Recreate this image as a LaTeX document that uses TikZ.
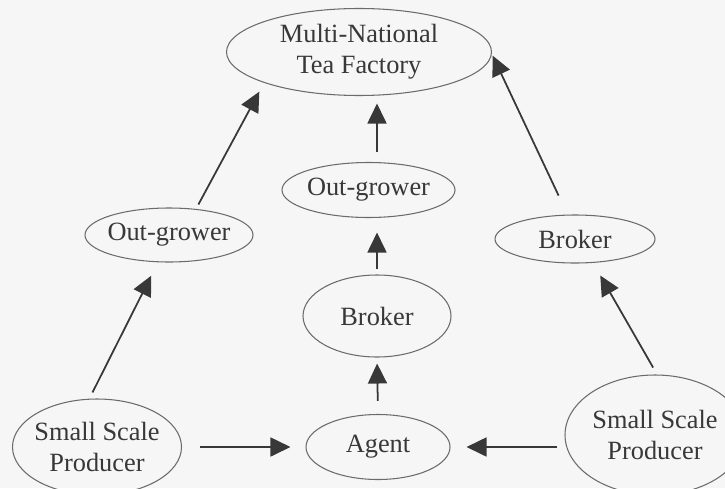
\documentclass[tikz,border=0pt]{standalone}
\usepackage{fontspec}
\setmainfont{Liberation Serif}
\usetikzlibrary{shapes.geometric,arrows.meta}
\definecolor{inkgray}{gray}{0.22}
\definecolor{rimgray}{gray}{0.42}
\definecolor{paper}{gray}{0.965}

\begin{document}
\begin{tikzpicture}[
  actor/.style={ellipse, draw=rimgray, line width=0.6pt, inner sep=0pt, inner xsep=-2pt,
    text=inkgray, align=center, font=\fontsize{15}{17.5}\selectfont},
  flow/.style={-{Triangle[length=0.4cm,width=0.38cm]}, line width=1pt, draw=inkgray}
]
% Page size and background
\clip (0,0) rectangle (14.5,-9.76);
\fill[paper] (0,0) rectangle (14.5,-9.76);

% The actors in the chain
\node[actor, minimum width=5.3cm, minimum height=1.74cm] (factory) at (7.18,-1.04) {Multi-National\\Tea Factory};
\node[actor, minimum width=3.46cm, minimum height=1.1cm] (growerMid) at (7.37,-3.8) {Out-grower};
\node[actor, minimum width=3.36cm, minimum height=1.08cm] (growerLeft) at (3.38,-4.7) {Out-grower};
\node[actor, minimum width=3.2cm, minimum height=0.96cm] (brokerRight) at (11.5,-4.78) {Broker};
\node[actor, minimum width=2.96cm, minimum height=1.64cm] (brokerMid) at (7.54,-6.32) {Broker};
\node[actor, minimum width=2.88cm, minimum height=1.3cm] (agent) at (7.56,-8.94) {Agent};
\node[actor, minimum width=3.38cm, minimum height=1.92cm] (producerLeft) at (1.94,-8.94) {Small Scale\\Producer};
\node[actor, minimum width=3.6cm, minimum height=2.4cm] (producerRight) at (13.1,-8.7) {Small Scale\\Producer};

% Flows of leaf to the factory
\draw[flow, shorten <=0.36cm, shorten >=0.3cm] (producerLeft.east) -- (agent.west);
\draw[flow, shorten <=0.14cm, shorten >=0.32cm] (producerRight.west |- agent.east) -- (agent.east);
\draw[flow, shorten <=0.26cm, shorten >=0.12cm] (agent.north) -- (brokerMid.south);
\draw[flow, shorten <=0.1cm, shorten >=0.29cm] (brokerMid.north) -- (brokerMid.north |- growerMid.south);
\draw[flow, shorten <=0.19cm, shorten >=0.15cm] (growerMid.north -| brokerMid) -- (factory.south -| brokerMid);
\draw[flow, shorten <=0.14cm, shorten >=0.3cm] (producerLeft.99) -- (growerLeft.248);
\draw[flow, shorten <=0.1cm, shorten >=0.2cm] (growerLeft.44) -- (factory.198.6);
\draw[flow, shorten <=0.16cm, shorten >=0.29cm] (producerRight.88) -- (brokerRight.307);
\draw[flow, shorten <=0.42cm, shorten >=0.42cm] (brokerRight.107.4) -- (factory.7.9);
\end{tikzpicture}
\end{document}
